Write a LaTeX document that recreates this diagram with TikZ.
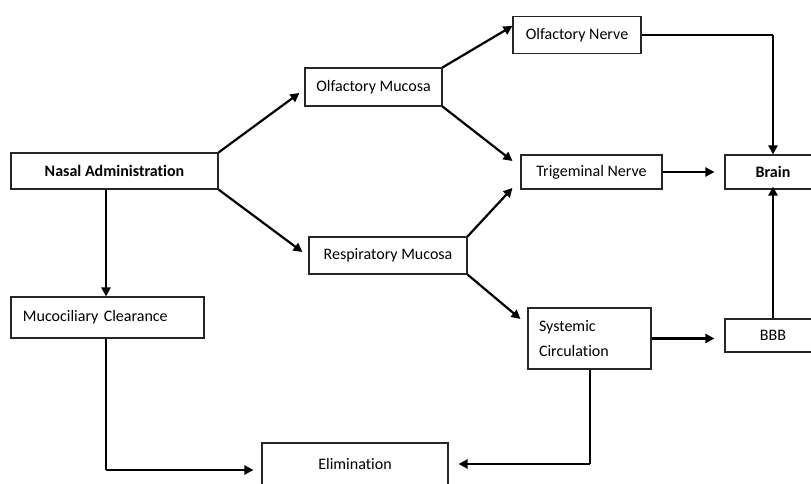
\documentclass[tikz,border=0pt]{standalone}
\usepackage{fontspec}
\setmainfont{Carlito}[Ligatures=NoCommon]
\usetikzlibrary{arrows.meta}
\begin{document}
\begin{tikzpicture}[x=1pt,y=-1pt,
  box/.style={draw=black!85, line width=1.1pt, rectangle, inner sep=0pt, font=\fontsize{16}{18}\selectfont},
  arr/.style={draw=black, line width=2.2pt, -{Triangle[length=9pt,width=9pt]}},
  thinline/.style={draw=black, line width=1.2pt}
]
\useasboundingbox (0,0) rectangle (811,484);

\node[box, minimum width=207pt, minimum height=36pt, font=\fontsize{16}{18}\selectfont\bfseries] (nasal) at (114.5,171) {Nasal Administration};
\node[box, minimum width=137pt, minimum height=38pt] (om) at (373.5,87) {Olfactory Mucosa};
\node[box, minimum width=128pt, minimum height=37pt] (on) at (577,35) {Olfactory Nerve};
\node[box, minimum width=141pt, minimum height=34pt] (trig) at (591.5,172) {Trigeminal Nerve};
\node[box, minimum width=96pt, minimum height=34pt, font=\fontsize{16}{18}\selectfont\bfseries] (brain) at (773,172) {Brain};
\node[box, minimum width=158pt, minimum height=37pt] (rm) at (388,255.5) {Respiratory Mucosa};
\node[box, text width=169pt, inner xsep=12pt, align=left, minimum height=41pt] (muco) at (107.5,317.5) {Mucociliary Clearance};
\node[box, text width=101pt, inner xsep=11pt, align=left, minimum height=61pt, font=\fontsize{16}{25}\selectfont] (sys) at (589.5,338.5) {Systemic\\Circulation};
\node[box, minimum width=96pt, minimum height=33pt] (bbb) at (773,335.5) {BBB};
\node[box, minimum width=186pt, minimum height=44pt] (elim) at (355,465) {\raisebox{2pt}{Elimination}};

\draw[arr] (nasal.north east) -- ([shift={(-5,6)}]om.west);
\draw[arr] (nasal.south east) -- ([shift={(-6,-3.5)}]rm.west);
\draw[arr] ([xshift=-8.5]nasal.south) -- ([xshift=-1.5]muco.north);
\draw[arr] (om.north east) -- ([shift={(0,-9)}]on.west);
\draw[arr] (om.south east) -- ([shift={(-8,-11)}]trig.west);
\draw[arr] (rm.north east) -- ([shift={(-8,16)}]trig.west);
\draw[arr] (rm.south east) -- ([shift={(-7,-19.5)}]sys.west);
\draw[arr] (trig.east) -- ([xshift=-10]brain.west);
\coordinate (onc) at (on.east -| brain.north);
\draw[thinline] (on.east) -- (onc);
\draw[arr] (onc) -- (brain.north);
\draw[arr] (bbb.north) -- ([yshift=3]brain.south);
\draw[arr] (sys.east) -- ([xshift=-10]sys.east -| bbb.west);
\coordinate (mcorner) at (106,470);
\draw[thinline] ([xshift=-1.5]muco.south) -- (mcorner);
\draw[arr] (mcorner) -- ([xshift=-8]elim.west |- mcorner);
\coordinate (scorner) at (590,464);
\draw[thinline] (sys.south -| scorner) -- (scorner);
\draw[arr] (scorner) -- ([xshift=10]elim.east |- scorner);
\end{tikzpicture}
\end{document}
